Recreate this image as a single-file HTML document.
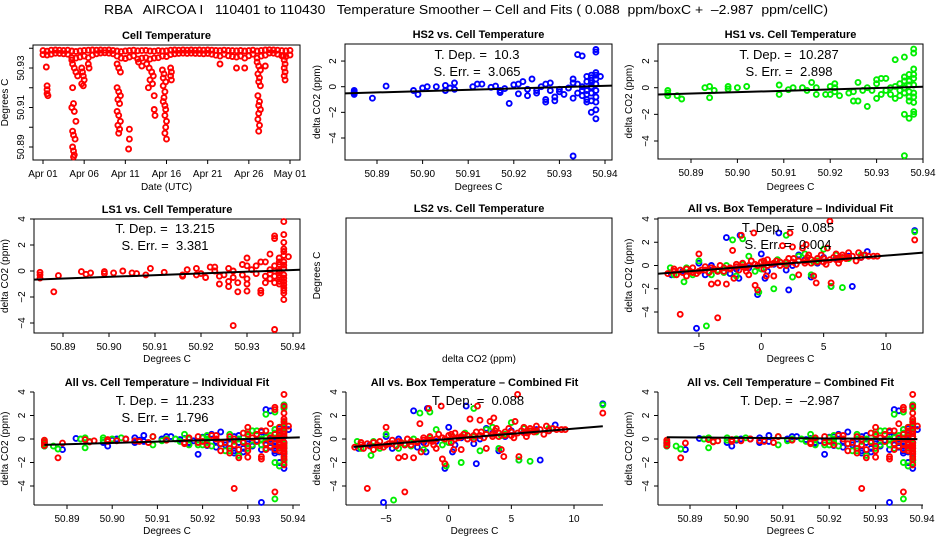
<!DOCTYPE html>
<html><head><meta charset="utf-8"><style>
html,body{margin:0;padding:0;background:#fff}
svg{display:block;font-family:"Liberation Sans",Arial,sans-serif}
text{white-space:pre}
</style></head><body>
<svg id="fig" width="936" height="540" viewBox="0 0 936 540" xmlns="http://www.w3.org/2000/svg">
<rect width="936" height="540" fill="#fff"/>
<text x="466" y="14" font-size="13" text-anchor="middle" textLength="724" lengthAdjust="spacingAndGlyphs">RBA   AIRCOA I   110401 to 110430   Temperature Smoother – Cell and Fits ( 0.088  ppm/boxC +  –2.987  ppm/cellC)</text>
</svg>
<script>
// ---- Panel 1: cell temperature time series ----
const bandDays=[0,0.5,1,1.5,2,2.5,3,3.5,4,4.5,5,5.5,6,6.5,7,7.5,8,8.5,9,9.5,10,10.5,11,11.5,12,12.5,13,13.5,14,14.5,15,15.5,16,16.5,17,17.5,18,18.5,19,19.5,20,20.5,21,21.5,22,22.5,23,23.5,24,24.5,25,25.5,26,26.5,27,27.5,28,28.5,29,29.5,30];
const bandHi=[50.9388,50.9385,50.9390,50.9391,50.9390,50.9389,50.9390,50.9386,50.9384,50.9387,50.9389,50.9390,50.9391,50.9390,50.9391,50.9390,50.9391,50.9389,50.9386,50.9383,50.9386,50.9388,50.9390,50.9387,50.9388,50.9389,50.9386,50.9385,50.9388,50.9386,50.9387,50.9390,50.9391,50.9390,50.9391,50.9390,50.9391,50.9390,50.9391,50.9390,50.9391,50.9390,50.9389,50.9388,50.9390,50.9389,50.9388,50.9387,50.9389,50.9386,50.9388,50.9390,50.9386,50.9389,50.9391,50.9392,50.9391,50.9390,50.9388,50.9387,50.9389];
const bandLo=[50.9368,50.9366,50.9370,50.9375,50.9374,50.9372,50.9370,50.9352,50.9350,50.9355,50.9360,50.9352,50.9365,50.9372,50.9376,50.9377,50.9375,50.9372,50.9360,50.9350,50.9348,50.9355,50.9362,50.9345,50.9350,50.9352,50.9345,50.9350,50.9352,50.9360,50.9358,50.9368,50.9372,50.9374,50.9375,50.9374,50.9375,50.9374,50.9373,50.9372,50.9374,50.9370,50.9365,50.9360,50.9370,50.9362,50.9358,50.9355,50.9360,50.9350,50.9362,50.9370,50.9350,50.9360,50.9365,50.9376,50.9375,50.9370,50.9362,50.9358,50.9366];
const dipDays=[0.4,0.5,0.5,0.5,0.6,3.5,3.6,3.8,4.0,4.2,3.6,3.7,3.5,3.8,4.0,3.6,3.7,3.9,3.6,3.7,3.8,3.7,4.7,4.8,4.9,5.0,4.7,4.9,5.5,5.6,9.0,9.2,9.4,9.0,9.2,9.4,9.1,9.3,9.0,9.2,9.4,9.1,9.3,9.2,10.5,10.5,10.4,11.6,12.0,12.6,12.9,13.2,13.4,13.0,13.3,12.8,13.5,13.5,13.6,14.5,14.7,14.6,14.9,14.6,14.8,14.7,14.6,14.8,14.9,14.8,15.0,14.9,14.8,15.0,15.5,15.6,15.5,15.6,21.5,23.5,24.5,26.0,26.2,26.4,26.1,26.3,26.2,26.4,26.1,26.3,26.2,26.4,26.2,26.1,26.3,26.2,27.0,29.2,29.3,29.4,29.3,29.4,29.3,29.4];
const dipTemps=[50.9305,50.921,50.919,50.917,50.916,50.934,50.932,50.930,50.928,50.926,50.920,50.912,50.910,50.908,50.903,50.898,50.896,50.894,50.890,50.888,50.886,50.885,50.930,50.928,50.926,50.924,50.922,50.921,50.932,50.930,50.932,50.930,50.928,50.920,50.918,50.916,50.914,50.912,50.908,50.906,50.903,50.901,50.899,50.897,50.899,50.894,50.889,50.933,50.931,50.932,50.930,50.928,50.926,50.924,50.922,50.920,50.916,50.909,50.906,50.929,50.927,50.925,50.923,50.921,50.918,50.915,50.913,50.911,50.909,50.906,50.903,50.900,50.897,50.894,50.930,50.928,50.926,50.924,50.932,50.930,50.930,50.933,50.931,50.929,50.927,50.925,50.923,50.921,50.916,50.913,50.911,50.909,50.907,50.904,50.901,50.898,50.931,50.936,50.934,50.932,50.930,50.928,50.926,50.924];
const dayTicks=[0,5,10,15,20,25,30];
const dayTickLabels=["Apr 01","Apr 06","Apr 11","Apr 16","Apr 21","Apr 26","May 01"];
const cellTempTicks=[50.89,50.90,50.91,50.92,50.93,50.94];
const cellTempTickLabels=["50.89","","50.91","","50.93",""];
const cellXTickLabels=["50.89","50.90","50.91","50.92","50.93","50.94"];
// ---- cell temperature scatter series ----
const hs2X=[50.885,50.885,50.885,50.885,50.889,50.892,50.898,50.899,50.900,50.901,50.903,50.905,50.905,50.906,50.907,50.907,50.911,50.912,50.913,50.915,50.916,50.917,50.917,50.918,50.919,50.920,50.921,50.921,50.922,50.923,50.923,50.924,50.925,50.925,50.926,50.927,50.927,50.927,50.928,50.928,50.929,50.929,50.930,50.930,50.931,50.932,50.933,50.933,50.933,50.933,50.934,50.935,50.934,50.935,50.936,50.936,50.936,50.937,50.937,50.937,50.937,50.937,50.938,50.938,50.938,50.938,50.938,50.938,50.938,50.938,50.938,50.938,50.939,50.936,50.936,50.935,50.935,50.937,50.936,50.934,50.937,50.938,50.937];
const hs2Y=[-0.3,-0.4,-0.5,-0.6,-0.9,0.05,-0.3,-0.6,-0.1,0.0,0.0,0.1,-0.3,-0.1,0.3,-0.2,0.0,0.2,0.2,-0.05,0.05,-0.3,-0.45,-0.15,-1.3,0.15,0.2,-0.55,0.4,-0.2,-0.7,0.6,-0.3,-0.5,0.0,0.2,-1.0,-1.2,0.3,-0.3,-0.8,-1.1,-0.2,-0.4,-0.6,-0.1,0.6,0.3,-0.9,-5.4,2.5,2.4,0.2,-0.7,0.8,-0.3,-1.0,0.9,0.5,0.0,-0.5,-2.0,2.9,2.7,1.1,0.6,0.2,-0.3,-0.8,-1.2,-1.8,-2.5,0.8,0.4,-0.6,0.0,-0.3,-1.1,-1.2,-0.5,0.3,0.9,0.7];
const hs1X=[50.885,50.885,50.885,50.887,50.888,50.893,50.894,50.894,50.895,50.898,50.898,50.900,50.902,50.909,50.909,50.911,50.912,50.914,50.915,50.916,50.917,50.917,50.919,50.920,50.920,50.921,50.921,50.921,50.922,50.924,50.925,50.925,50.926,50.926,50.927,50.928,50.928,50.929,50.930,50.930,50.930,50.931,50.932,50.931,50.932,50.933,50.933,50.934,50.934,50.935,50.935,50.936,50.936,50.936,50.936,50.936,50.937,50.937,50.937,50.937,50.937,50.938,50.938,50.938,50.938,50.938,50.938,50.938,50.938,50.938,50.937,50.936,50.935,50.937,50.934,50.936,50.938,50.938];
const hs1Y=[-0.2,-0.4,-0.6,-0.6,-0.85,0.0,0.1,-0.75,-0.2,0.1,-0.1,0.0,0.1,0.2,-0.5,-0.15,0.0,0.0,-0.2,0.4,0.0,-0.5,-0.5,-0.5,0.1,0.3,0.0,-0.3,-0.6,-0.4,-1.0,-0.3,0.4,-1.0,-0.2,0.0,-1.4,-0.2,0.6,0.3,-0.8,0.7,0.7,-0.5,-0.2,0.0,-0.5,2.1,-0.8,0.3,-0.6,2.3,0.8,0.0,-2.0,-5.1,1.0,0.5,-0.3,-1.0,-2.3,2.9,2.6,1.4,0.7,0.2,-0.4,-1.1,-1.8,-2.0,0.2,-0.4,-0.2,-0.7,0.1,0.5,-0.7,1.0];
const ls1X=[50.885,50.885,50.885,50.888,50.889,50.894,50.895,50.896,50.899,50.899,50.901,50.903,50.905,50.906,50.908,50.909,50.912,50.916,50.916,50.917,50.919,50.919,50.920,50.921,50.922,50.923,50.923,50.924,50.924,50.925,50.926,50.926,50.926,50.927,50.927,50.927,50.928,50.928,50.929,50.929,50.930,50.930,50.930,50.930,50.930,50.931,50.932,50.932,50.933,50.933,50.933,50.934,50.934,50.934,50.935,50.935,50.935,50.936,50.936,50.936,50.936,50.936,50.937,50.937,50.937,50.937,50.937,50.938,50.938,50.938,50.938,50.938,50.938,50.938,50.938,50.938,50.938,50.938,50.938,50.939,50.937,50.937,50.937,50.936,50.936,50.935,50.938,50.938,50.938,50.938,50.938];
const ls1Y=[-0.1,-0.3,-0.55,-1.6,-0.35,-0.05,-0.25,-0.15,-0.05,-0.2,-0.15,0.0,-0.15,-0.2,-0.3,0.2,-0.1,-0.3,-0.4,0.1,0.2,-0.3,-0.2,-0.5,0.3,0.3,0.0,-0.4,-1.0,-0.3,0.2,-0.8,-1.2,0.0,-0.5,-4.2,-0.9,-1.6,0.5,-0.3,1.0,0.4,-0.6,-1.0,-1.55,0.1,0.4,-0.2,0.7,-1.5,-1.7,0.7,-0.4,-0.9,1.3,0.1,-0.6,2.7,2.5,0.0,-0.9,-4.5,1.0,0.5,0.0,-0.5,-1.0,3.8,2.8,2.2,1.7,1.2,0.7,0.2,-0.3,-0.8,-1.3,-1.7,-2.2,1.1,0.7,-0.3,-0.8,0.4,-0.4,-0.2,1.5,0.45,-0.55,-1.05,-1.5];
// ---- box temperature scatter series ----
const boxHs2X=[-7.2,-6.3,-5.2,-5,-4.5,-3.5,-2.8,-2.5,-1.8,-1.7,-1,-0.3,0,0.3,1,1.4,2,2.2,2.5,3,3.5,4,4.5,5,5.6,6,7,7.3,8,8.5,12.3,-2,0.5,-4];
const boxHs2Y=[-0.8,-0.5,-5.4,0.2,-0.8,-0.5,2.4,-0.7,-1.1,2.6,-0.2,-2.5,1.0,-1.1,0.1,2.8,-0.4,-2.1,0.0,0.9,0.5,-1.0,0.2,0.7,-1.8,0.6,0.8,-1.8,0.7,1.2,3.0,-0.3,-0.5,0.0];
const boxHs1X=[-7.3,-7,-6.2,-5.5,-5,-4.4,-4,-3.5,-2.8,-2.3,-2,-1.5,-1,-0.5,-0.2,0.3,1,1.3,2,2.5,3,3.5,4,4.5,5,5.6,6,6.5,7,8,12.3,-6,-3,0,2,4.2,6.3,-1.5];
const boxHs1Y=[-0.2,-0.8,-1.4,-0.8,0.4,-5.2,-0.8,-0.4,0.0,2.2,-0.9,2.3,0.8,-0.5,-2.3,0.2,-2.0,0.5,2.6,-1.0,0.8,1.0,-0.8,0.4,1.4,-1.8,0.9,-1.9,0.6,0.9,2.9,-0.2,-0.6,-0.3,0.2,0.3,0.7,0.1];
const boxLs1X=[-7.5,-7,-6.8,-6.5,-6.3,-6,-6,-5.7,-5.5,-5.2,-5,-4.8,-4.5,-4.2,-4,-3.8,-3.5,-3.5,-3.3,-3,-2.8,-2.5,-2.3,-2.2,-2,-1.8,-1.6,-1.5,-1.3,-1,-0.8,-0.6,-0.5,-0.3,-0.3,0,0.2,0.4,0.5,0.8,1,1.2,1.5,1.7,2,2.3,2.5,2.6,2.8,3,3.3,3.5,3.6,3.8,4,4.2,4.4,4.5,4.8,5,5.3,5.5,5.6,5.8,6,6.3,6.5,6.8,7,7.3,7.6,7.8,8,8.3,8.6,9,9.3,12.3,-7,-6.5,-5,-4.5,-4,-3,-2.5,-2,-1.5,-1,-0.5,0.5,1,1.5,2,2.5,3,3.5,4,4.5,5,5.5,6,6.5,7,-5.5,-3.5,-1.2,0.2,2.2,3.7,5.2,6.2];
const boxLs1Y=[-0.7,-0.5,-0.8,-4.2,-0.6,-0.9,-0.3,-0.5,-0.2,-0.7,1.0,-0.4,-0.1,-0.6,-1.6,-0.3,-1.5,-4.5,0.0,-0.5,-1.6,-0.2,1.3,-1.1,0.1,-0.4,2.6,0.2,-0.2,-0.8,0.4,2.8,-1.7,-2.1,0.0,0.3,-0.3,-0.9,0.5,0.1,-0.9,0.4,0.0,1.7,0.3,2.8,1.6,0.6,0.1,-0.8,1.5,0.4,1.8,0.9,0.2,-0.9,-1.5,0.6,0.9,0.3,1.5,3.8,-1.5,0.7,1.0,0.5,0.9,0.6,1.1,0.8,0.4,1.1,0.7,0.9,0.8,0.8,0.8,2.2,-0.3,-0.4,-0.5,-0.4,-0.2,-0.2,-0.3,-0.1,-0.1,0.0,0.1,0.0,0.2,0.3,0.0,0.3,0.4,0.2,0.5,0.3,0.6,0.5,0.5,0.7,0.7,-0.6,-0.5,-0.5,0.4,0.6,0.7,0.1,0.2];
// ---- fits ----
const fitNames=["hs2","hs1","ls1","allCellInd","allCellComb","boxInd","boxComb"];
const fitSlopes=[10.3,10.287,13.215,11.233,-2.987,0.085,0.088];
const fitRefY=[-0.036,-0.027,-0.055,0.005,0.016,0.0,0.0];
const fitRefX=[50.93,50.93,50.93,50.93,50.93,0,0];
const dcTicks=[-4,-2,0,2,4];
const cellXTicks=[50.89,50.90,50.91,50.92,50.93,50.94];
const boxXTicks=[-5,0,5,10];

const svg=document.getElementById('fig');
const NS='http://www.w3.org/2000/svg';
function mk(tag,attrs,parent){const e=document.createElementNS(NS,tag);for(const k in attrs)e.setAttribute(k,attrs[k]);(parent||svg).appendChild(e);return e;}
function lin(d0,d1,r0,r1){return v=>r0+(v-d0)*(r1-r0)/(d1-d0);}

function panel(cfg){
  const g=mk('g',{});
  
  
  const {L,R,T,B}=cfg;
  const sx=cfg.sx, sy=cfg.sy;
  const t=mk('text',{x:(L+R)/2,y:T-6,'font-size':11,'font-weight':'bold','text-anchor':'middle'},g);
  t.textContent=cfg.title;
  
  
  if(cfg.box){
    const r=mk('rect',{x:L,y:T,width:R-L,height:B-T,fill:'none',stroke:'#000','stroke-width':1},g);
    
    
  } else {
    const a1=mk('line',{x1:L,y1:T,x2:L,y2:B,stroke:'#000'},g);
    
    
    const a2=mk('line',{x1:L,y1:B,x2:R,y2:B,stroke:'#000'},g);
    
    
  }
  if(cfg.xTicks){
    cfg.xTicks.forEach((v,i)=>{
      const x=sx(v);
      const tk=mk('line',{x1:x,y1:B,x2:x,y2:B+4,stroke:'#000'},g);
      
      
      const lb=mk('text',{x:x,y:B+17,'font-size':10,'text-anchor':'middle'},g);
      lb.textContent=cfg.xLabels?cfg.xLabels[i]:(v<0?'−'+Math.abs(v):String(v));
      
      
    });
  }
  if(cfg.yTicks){
    cfg.yTicks.forEach((v,i)=>{
      const y=sy(v); if(y<T-1||y>B+1)return;
      const tk=mk('line',{x1:L-4,y1:y,x2:L,y2:y,stroke:'#000'},g);
      
      
      const txt=cfg.yLabels?cfg.yLabels[i]:(v<0?'−'+Math.abs(v):String(v));
      if(!txt)return;
      const lb=mk('text',{x:L-9,y:y,'font-size':10,'text-anchor':'middle',transform:`rotate(-90 ${L-9} ${y})`},g);
      lb.textContent=txt;
      
      
    });
  }
  const xl=mk('text',{x:(L+R)/2,y:cfg.xTitleY,'font-size':10,'text-anchor':'middle'},g);
  xl.textContent=cfg.xTitle;
  
  
  const yx=cfg.yTitleX, yy=(T+B)/2;
  const yl=mk('text',{x:yx,y:yy,'font-size':10,'text-anchor':'middle',transform:`rotate(-90 ${yx} ${yy})`},g);
  yl.textContent=cfg.yTitle;
  
  
  return g;
}
function points(g,xs,ys,sx,sy,color,nm){
  const sg=mk('g',{fill:'none',stroke:color,'stroke-width':1.9},g);
  
  
  for(let i=0;i<xs.length;i++){
    const c=mk('circle',{cx:sx(xs[i]).toFixed(1),cy:sy(ys[i]).toFixed(1),r:2.5},sg);
    
    
  }
}
function fit(g,k,x0,x1,sx,sy){
  const f=v=>fitRefY[k]+fitSlopes[k]*(v-fitRefX[k]);
  const l=mk('line',{x1:sx(x0),y1:sy(f(x0)),x2:sx(x1),y2:sy(f(x1)),stroke:'#000','stroke-width':2},g);
  
  
}
function annot(g,x,y,txt){
  const t=mk('text',{x:x,y:y,'font-size':13,'text-anchor':'middle'},g);
  t.textContent=txt;
  
  
}

// Panel 1
{
  const sx=lin(0,30,43,290), sy=lin(50.89,50.93,147,68);
  const g=panel({name:'panel-cell-temperature',title:'Cell Temperature',L:33,R:300,T:45,B:160,box:true,sx,sy,
    xTicks:dayTicks,xLabels:dayTickLabels,yTicks:cellTempTicks,yLabels:cellTempTickLabels,
    xTitle:'Date (UTC)',xTitleY:190,yTitle:'Degrees C',yTitleX:8});
  points(g,bandDays,bandLo,sx,sy,'#f00','series-cell-temp-low');
  points(g,bandDays,bandHi,sx,sy,'#f00','series-cell-temp-high');
  points(g,dipDays,dipTemps,sx,sy,'#f00','series-cell-temp-dips');
}
// Panel 2 HS2
{
  const sx=lin(50.89,50.94,377,605), sy=lin(0,-4,86.7,138);
  const g=panel({name:'panel-hs2-vs-cell',title:'HS2 vs. Cell Temperature',L:345,R:612,T:44,B:160,box:true,sx,sy,
    xTicks:cellXTicks,xLabels:cellXTickLabels,yTicks:dcTicks,xTitle:'Degrees C',xTitleY:190,yTitle:'delta CO2 (ppm)',yTitleX:320});
  points(g,hs2X,hs2Y,sx,sy,'#00f','series-hs2');
  fit(g,0,50.883,50.9415,sx,sy);
  annot(g,477,59,'T. Dep. =  10.3'); annot(g,477,76,'S. Err. =  3.065');
}
// Panel 3 HS1
{
  const sx=lin(50.89,50.94,691,923), sy=lin(0,-4,87.7,141);
  const g=panel({name:'panel-hs1-vs-cell',title:'HS1 vs. Cell Temperature',L:658,R:923,T:44,B:159,box:true,sx,sy,
    xTicks:cellXTicks,xLabels:cellXTickLabels,yTicks:dcTicks,xTitle:'Degrees C',xTitleY:190,yTitle:'delta CO2 (ppm)',yTitleX:632});
  points(g,hs1X,hs1Y,sx,sy,'#0e0','series-hs1');
  fit(g,1,50.883,50.94,sx,sy);
  annot(g,789,59,'T. Dep. =  10.287'); annot(g,789,76,'S. Err. =  2.898');
}
// Panel 4 LS1
{
  const sx=lin(50.89,50.94,63,293), sy=lin(0,-4,271,323);
  const g=panel({name:'panel-ls1-vs-cell',title:'LS1 vs. Cell Temperature',L:34,R:300,T:219,B:333,box:true,sx,sy,
    xTicks:cellXTicks,xLabels:cellXTickLabels,yTicks:dcTicks,xTitle:'Degrees C',xTitleY:362,yTitle:'delta CO2 (ppm)',yTitleX:8});
  points(g,ls1X,ls1Y,sx,sy,'#f00','series-ls1');
  fit(g,2,50.8837,50.9415,sx,sy);
  annot(g,165,233,'T. Dep. =  13.215'); annot(g,165,250,'S. Err. =  3.381');
}
// Panel 5 empty LS2
{
  const sx=lin(0,1,346,612), sy=lin(0,1,333,218);
  panel({name:'panel-ls2-vs-cell',title:'LS2 vs. Cell Temperature',L:346,R:612,T:218,B:333,box:true,sx,sy,
    xTitle:'delta CO2 (ppm)',xTitleY:362,yTitle:'Degrees C',yTitleX:320});
}
// Panel 6 all vs box indiv
{
  const sx=lin(0,10,761.3,886), sy=lin(0,-4,265.5,312);
  const g=panel({name:'panel-all-vs-box-individual',title:'All vs. Box Temperature – Individual Fit',L:658,R:923,T:218,B:333,box:true,sx,sy,
    xTicks:boxXTicks,yTicks:dcTicks,xTitle:'Degrees C',xTitleY:362,yTitle:'delta CO2 (ppm)',yTitleX:632});
  points(g,boxHs2X,boxHs2Y,sx,sy,'#00f','series-hs2');
  points(g,boxHs1X,boxHs1Y,sx,sy,'#0e0','series-hs1');
  points(g,boxLs1X,boxLs1Y,sx,sy,'#f00','series-ls1');
  fit(g,5,-8.29,12.97,sx,sy);
  annot(g,788,232,'T. Dep. =  0.085'); annot(g,788,249,'S. Err. =  0.004');
}
// Panel 7 all vs cell indiv
{
  const sx=lin(50.89,50.94,67,293), sy=lin(0,-4,439,486);
  const g=panel({name:'panel-all-vs-cell-individual',title:'All vs. Cell Temperature – Individual Fit',L:34,R:300,T:392,B:505,box:false,sx,sy,
    xTicks:cellXTicks,xLabels:cellXTickLabels,yTicks:dcTicks,xTitle:'Degrees C',xTitleY:534,yTitle:'delta CO2 (ppm)',yTitleX:8});
  points(g,hs2X,hs2Y,sx,sy,'#00f','series-hs2');
  points(g,hs1X,hs1Y,sx,sy,'#0e0','series-hs1');
  points(g,ls1X,ls1Y,sx,sy,'#f00','series-ls1');
  fit(g,3,50.885,50.9415,sx,sy);
  annot(g,165,405,'T. Dep. =  11.233'); annot(g,165,422,'S. Err. =  1.796');
}
// Panel 8 all vs box combined
{
  const sx=lin(0,10,448.7,574), sy=lin(0,-4,439,486);
  const g=panel({name:'panel-all-vs-box-combined',title:'All vs. Box Temperature – Combined Fit',L:346,R:603,T:392,B:505,box:false,sx,sy,
    xTicks:boxXTicks,yTicks:dcTicks,xTitle:'Degrees C',xTitleY:534,yTitle:'delta CO2 (ppm)',yTitleX:320});
  points(g,boxHs2X,boxHs2Y,sx,sy,'#00f','series-hs2');
  points(g,boxHs1X,boxHs1Y,sx,sy,'#0e0','series-hs1');
  points(g,boxLs1X,boxLs1Y,sx,sy,'#f00','series-ls1');
  fit(g,6,-7.6,12.3,sx,sy);
  annot(g,478,405,'T. Dep. =  0.088');
}
// Panel 9 all vs cell combined
{
  const sx=lin(50.89,50.94,690,922), sy=lin(0,-4,439,486);
  const g=panel({name:'panel-all-vs-cell-combined',title:'All vs. Cell Temperature – Combined Fit',L:658,R:923,T:392,B:505,box:false,sx,sy,
    xTicks:cellXTicks,xLabels:cellXTickLabels,yTicks:dcTicks,xTitle:'Degrees C',xTitleY:534,yTitle:'delta CO2 (ppm)',yTitleX:632});
  points(g,hs2X,hs2Y,sx,sy,'#00f','series-hs2');
  points(g,hs1X,hs1Y,sx,sy,'#0e0','series-hs1');
  points(g,ls1X,ls1Y,sx,sy,'#f00','series-ls1');
  fit(g,4,50.885,50.939,sx,sy);
  annot(g,790,405,'T. Dep. =  –2.987');
}
</script>
</body></html>
